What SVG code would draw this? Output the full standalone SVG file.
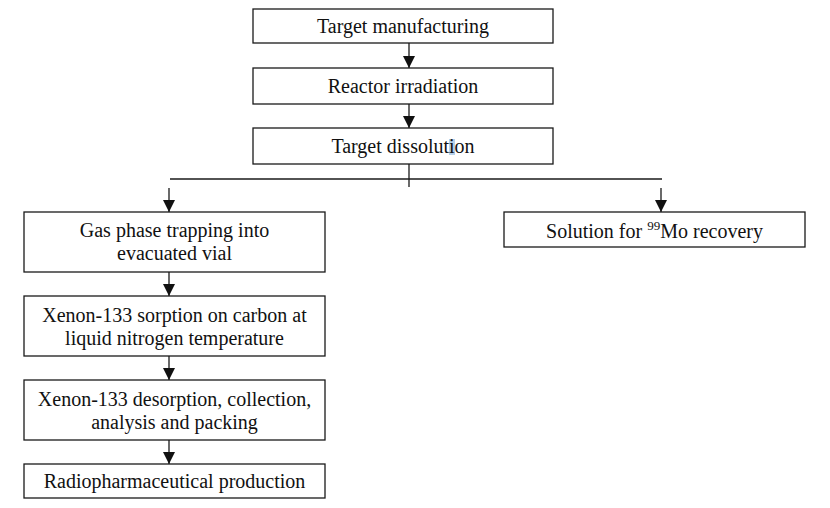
<svg xmlns="http://www.w3.org/2000/svg" width="830" height="508" viewBox="0 0 830 508">
<defs>
<style>
.box{fill:#fff;stroke:#1a1a1a;stroke-width:1.3}
.t{font-family:"Liberation Serif","Times New Roman",serif;font-size:20px;fill:#111;text-anchor:middle}
.ln{stroke:#1a1a1a;stroke-width:1.3;fill:none}
.sup{font-size:13px}
</style>
<marker id="ah" markerWidth="12" markerHeight="12" refX="12" refY="6" orient="auto" markerUnits="userSpaceOnUse">
<path d="M0,0 L12,6 L0,12 Z" fill="#111"/>
</marker>
</defs>
<rect width="830" height="508" fill="#fff"/>
<g id="connectors">
<line class="ln" x1="409" y1="43" x2="409" y2="68" marker-end="url(#ah)"/>
<line class="ln" x1="409" y1="104" x2="409" y2="128" marker-end="url(#ah)"/>
<line class="ln" x1="409" y1="164" x2="409" y2="187"/>
<line class="ln" x1="170" y1="179" x2="662" y2="179"/>
<line class="ln" x1="169" y1="188" x2="169" y2="212" marker-end="url(#ah)"/>
<line class="ln" x1="661" y1="188" x2="661" y2="212" marker-end="url(#ah)"/>
<line class="ln" x1="169" y1="272" x2="169" y2="296" marker-end="url(#ah)"/>
<line class="ln" x1="169" y1="356" x2="169" y2="380" marker-end="url(#ah)"/>
<line class="ln" x1="169" y1="440" x2="169" y2="464" marker-end="url(#ah)"/>
</g>
<g id="n1"><rect class="box" x="253" y="9" width="300" height="34"/><text class="t" x="403" y="33">Target manufacturing</text></g>
<g id="n2"><rect class="box" x="253" y="68" width="300" height="36"/><text class="t" x="403" y="93">Reactor irradiation</text></g>
<g id="n3"><rect class="box" x="253" y="128" width="300" height="36"/><rect x="449" y="139" width="6" height="16" fill="#b5d0ea"/><text class="t" x="403" y="153">Target dissolution</text></g>
<g id="n4"><rect class="box" x="24" y="212" width="301" height="60"/><text class="t" x="174.5" y="237">Gas phase trapping into</text><text class="t" x="174.5" y="260">evacuated vial</text></g>
<g id="n5"><rect class="box" x="24" y="296" width="301" height="60"/><text class="t" x="174.5" y="322">Xenon-133 sorption on carbon at</text><text class="t" x="174.5" y="345">liquid nitrogen temperature</text></g>
<g id="n6"><rect class="box" x="24" y="380" width="301" height="60"/><text class="t" x="174.5" y="406">Xenon-133 desorption, collection,</text><text class="t" x="174.5" y="429">analysis and packing</text></g>
<g id="n7"><rect class="box" x="24" y="464" width="301" height="34"/><text class="t" x="174.5" y="488">Radiopharmaceutical production</text></g>
<g id="n8"><rect class="box" x="504" y="212" width="301" height="35"/><text class="t" x="654.5" y="238">Solution for <tspan class="sup" dy="-8">99</tspan><tspan dy="8">Mo recovery</tspan></text></g>
</svg>
